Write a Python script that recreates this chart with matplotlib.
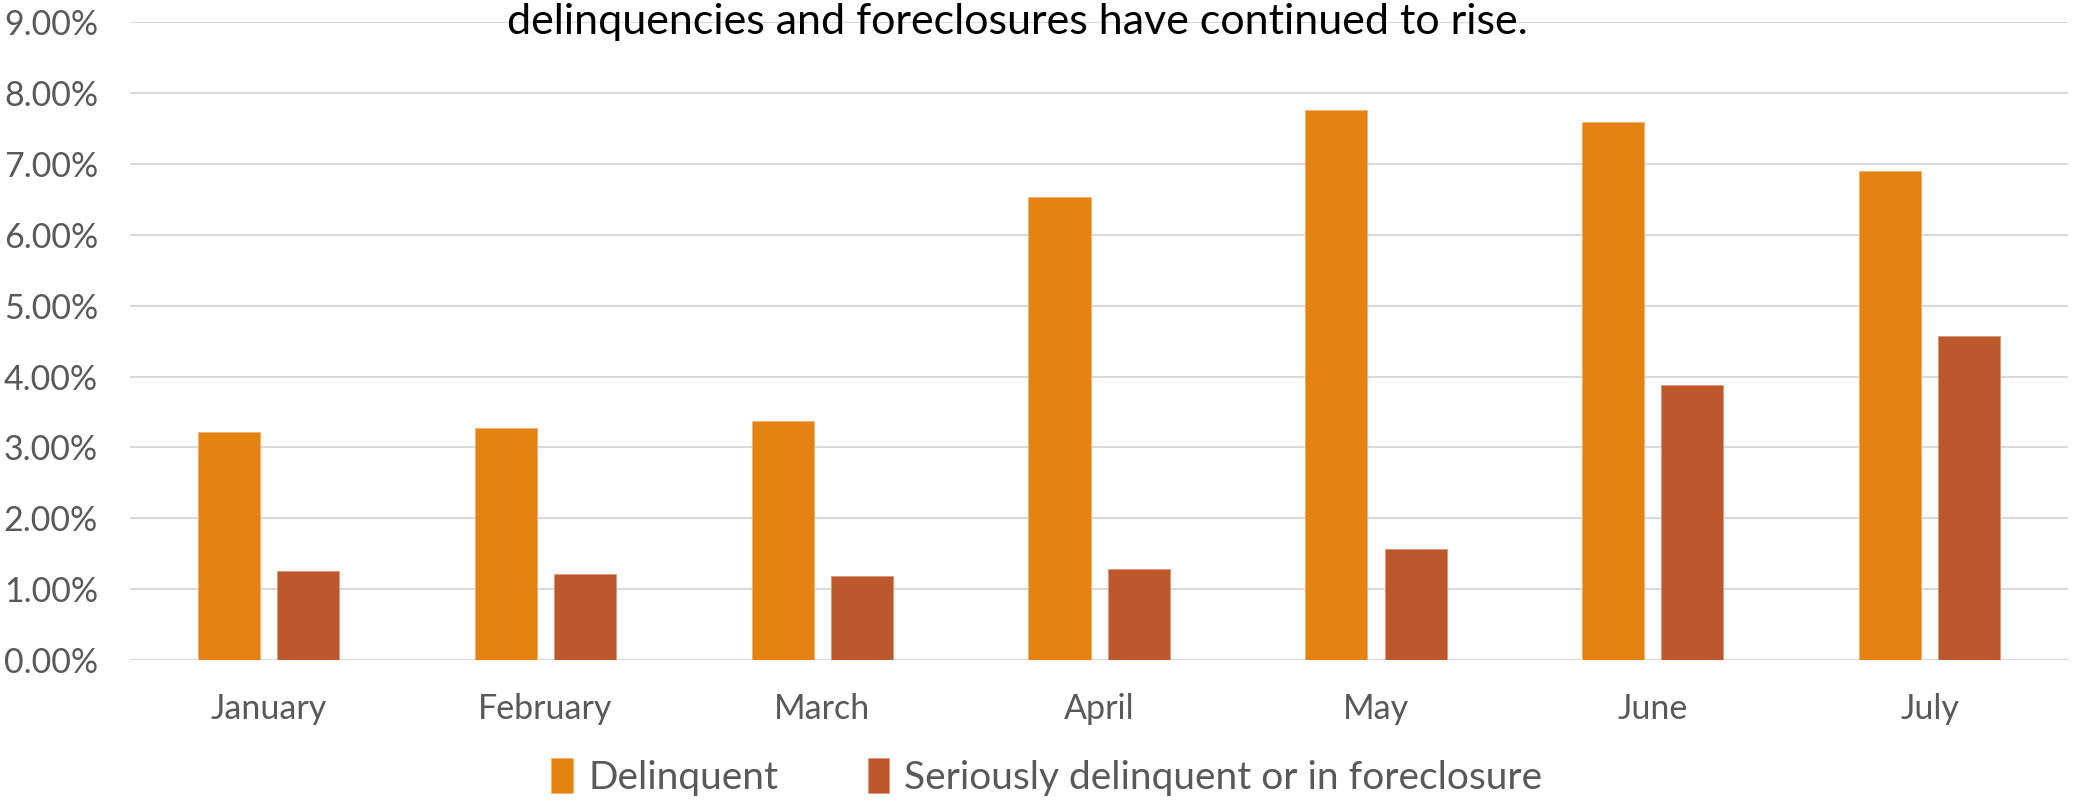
import matplotlib.pyplot as plt
import numpy as np
from matplotlib.ticker import PercentFormatter

months = ["January", "February", "March", "April", "May", "June", "July"]
delinquent = [3.22, 3.28, 3.38, 6.54, 7.76, 7.59, 6.90]
serious = [1.25, 1.22, 1.18, 1.28, 1.57, 3.88, 4.57]
yticks = [0, 1, 2, 3, 4, 5, 6, 7, 8, 9]

plt.rcParams['font.family'] = ['Lato', 'DejaVu Sans']

fig = plt.figure(figsize=(20.73, 8.01), dpi=100)
ax = fig.add_axes([0.0627, 0.176, 0.935, 0.796])

x = np.arange(len(months))
w = 0.224
ax.bar(x - 0.143, delinquent, w, color='#E48312', edgecolor='#F0B070', linewidth=0.6,
       label='Delinquent', zorder=3)
ax.bar(x + 0.143, serious, w, color='#BD582C', edgecolor='#D9977A', linewidth=0.6,
       label='Seriously delinquent or in foreclosure', zorder=3)

ax.set_xlim(-0.5, len(months) - 0.5)
ax.set_ylim(0, 9)
ax.set_yticks(yticks)
ax.yaxis.set_major_formatter(PercentFormatter(decimals=2))
ax.set_xticks(x)
ax.set_xticklabels(months)
ax.grid(axis='y', color='#d9d9d9', linewidth=1.5, zorder=0)
ax.tick_params(axis='both', length=0, labelsize=24.5, colors='#595959')
ax.tick_params(axis='y', pad=23)
ax.tick_params(axis='x', pad=24)
for s in ax.spines.values():
    s.set_visible(False)

fig.text(0.491, 0.958, "delinquencies and foreclosures have continued to rise.",
         ha='center', va='baseline', fontsize=31, color='black')

fig.legend(loc='center', bbox_to_anchor=(0.505, 0.03), ncol=2, frameon=False,
           fontsize=28, labelcolor='#595959', handlelength=0.55, handleheight=1.0,
           handletextpad=0.4, columnspacing=2.3)

plt.savefig('out.png', dpi=100)
